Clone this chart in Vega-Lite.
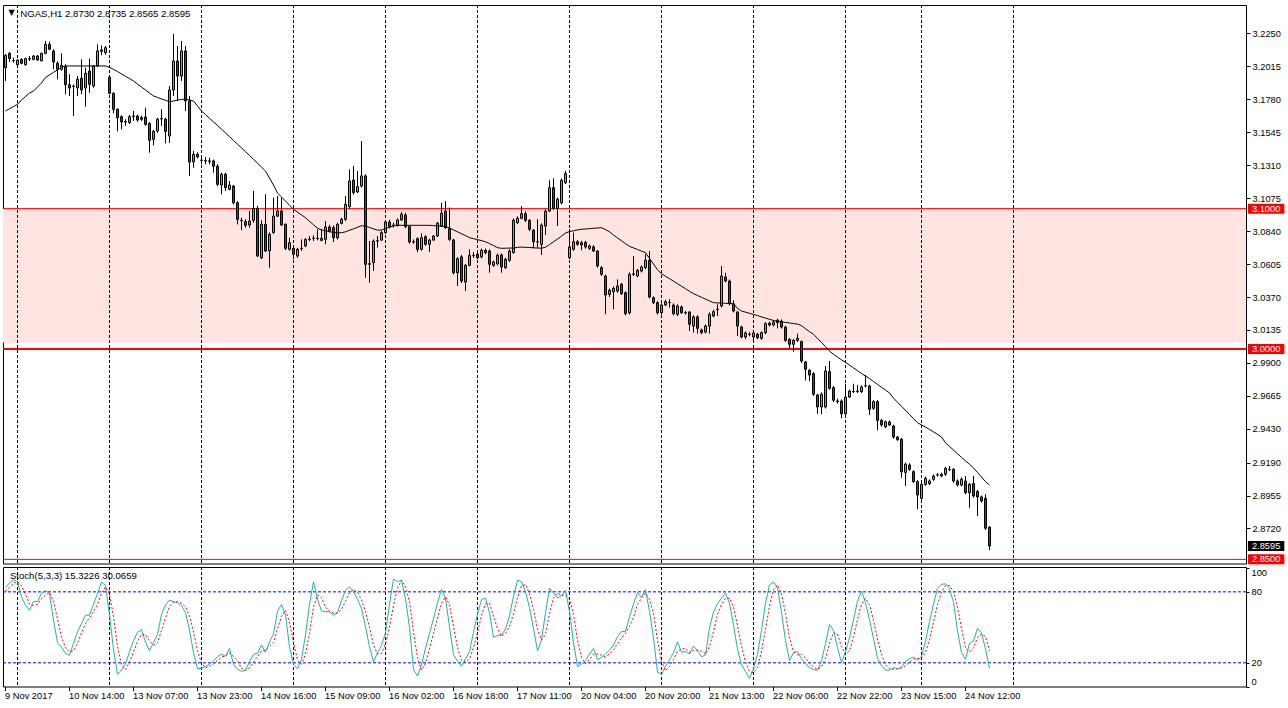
{
"$schema": "https://vega.github.io/schema/vega-lite/v6.json",
"background": "white",
"padding": {"left": 1, "top": 4, "right": 0, "bottom": 0},
"autosize": {"type": "pad"},
"spacing": 3,
"bounds": "flush",
"config": {
  "view": {"stroke": "black", "strokeWidth": 1, "fill": "white"},
  "font": "Liberation Sans",
  "scale": {"continuousPadding": 0},
  "axis": {"labelFont": "Liberation Sans", "labelFontSize": 9.3, "labelColor": "black", "tickColor": "black", "tickWidth": 1, "domain": false, "grid": false, "labelOverlap": false}
},
"datasets": {
  "b": [
{"i":0,"o":3.2005,"h":3.2102,"l":3.1910,"c":3.2093,"ma":3.1696,"k":83.8,"d":80.6},
{"i":1,"o":3.2107,"h":3.2116,"l":3.2045,"c":3.2069,"ma":3.1712,"k":87.5,"d":83.8},
{"i":2,"o":3.2057,"h":3.2076,"l":3.2040,"c":3.2055,"ma":3.1728,"k":90.2,"d":87.2},
{"i":3,"o":3.2026,"h":3.2064,"l":3.2022,"c":3.2059,"ma":3.1744,"k":88.7,"d":88.8},
{"i":4,"o":3.2064,"h":3.2071,"l":3.2029,"c":3.2036,"ma":3.1774,"k":75.8,"d":84.9},
{"i":5,"o":3.2026,"h":3.2076,"l":3.2019,"c":3.2069,"ma":3.1799,"k":68.7,"d":77.7},
{"i":6,"o":3.2069,"h":3.2088,"l":3.2052,"c":3.2066,"ma":3.1824,"k":64.5,"d":69.7},
{"i":7,"o":3.2064,"h":3.2095,"l":3.2057,"c":3.2088,"ma":3.1838,"k":72.0,"d":68.4},
{"i":8,"o":3.2088,"h":3.2095,"l":3.2055,"c":3.2059,"ma":3.1867,"k":71.7,"d":69.4},
{"i":9,"o":3.2054,"h":3.2112,"l":3.2050,"c":3.2107,"ma":3.1896,"k":78.8,"d":74.2},
{"i":10,"o":3.2107,"h":3.2195,"l":3.2100,"c":3.2171,"ma":3.1935,"k":81.1,"d":77.2},
{"i":11,"o":3.2171,"h":3.2190,"l":3.2130,"c":3.2136,"ma":3.1953,"k":78.6,"d":79.5},
{"i":12,"o":3.2124,"h":3.2136,"l":3.1993,"c":3.2045,"ma":3.1972,"k":55.9,"d":71.9},
{"i":13,"o":3.2036,"h":3.2050,"l":3.1922,"c":3.1993,"ma":3.1988,"k":37.0,"d":57.2},
{"i":14,"o":3.1993,"h":3.2107,"l":3.1983,"c":3.2022,"ma":3.2008,"k":33.2,"d":42.0},
{"i":15,"o":3.2012,"h":3.2030,"l":3.1815,"c":3.1883,"ma":3.2017,"k":28.0,"d":32.7},
{"i":16,"o":3.1883,"h":3.1958,"l":3.1803,"c":3.1860,"ma":3.2017,"k":26.3,"d":29.2},
{"i":17,"o":3.1874,"h":3.1886,"l":3.1660,"c":3.1870,"ma":3.2017,"k":36.6,"d":30.3},
{"i":18,"o":3.1860,"h":3.1945,"l":3.1803,"c":3.1922,"ma":3.2017,"k":46.2,"d":36.4},
{"i":19,"o":3.1929,"h":3.2064,"l":3.1815,"c":3.1846,"ma":3.2017,"k":53.3,"d":45.4},
{"i":20,"o":3.1860,"h":3.2005,"l":3.1727,"c":3.1965,"ma":3.2017,"k":60.3,"d":53.3},
{"i":21,"o":3.1981,"h":3.2069,"l":3.1826,"c":3.1886,"ma":3.2017,"k":60.3,"d":58.0},
{"i":22,"o":3.1874,"h":3.2022,"l":3.1862,"c":3.2017,"ma":3.2017,"k":69.4,"d":63.3},
{"i":23,"o":3.2017,"h":3.2171,"l":3.2012,"c":3.2124,"ma":3.2017,"k":78.7,"d":69.5},
{"i":24,"o":3.2121,"h":3.2164,"l":3.2093,"c":3.2131,"ma":3.2017,"k":88.4,"d":78.8},
{"i":25,"o":3.2112,"h":3.2159,"l":3.2097,"c":3.2147,"ma":3.2017,"k":85.4,"d":84.2},
{"i":26,"o":3.1938,"h":3.1945,"l":3.1815,"c":3.1822,"ma":3.2007,"k":60.4,"d":78.1},
{"i":27,"o":3.1822,"h":3.1829,"l":3.1680,"c":3.1708,"ma":3.1993,"k":31.3,"d":59.0},
{"i":28,"o":3.1708,"h":3.1715,"l":3.1551,"c":3.1648,"ma":3.1977,"k":10.3,"d":34.0},
{"i":29,"o":3.1655,"h":3.1665,"l":3.1566,"c":3.1618,"ma":3.1960,"k":13.9,"d":18.5},
{"i":30,"o":3.1620,"h":3.1637,"l":3.1589,"c":3.1617,"ma":3.1943,"k":19.2,"d":14.5},
{"i":31,"o":3.1613,"h":3.1667,"l":3.1603,"c":3.1655,"ma":3.1927,"k":29.4,"d":20.8},
{"i":32,"o":3.1658,"h":3.1696,"l":3.1625,"c":3.1660,"ma":3.1910,"k":38.7,"d":29.1},
{"i":33,"o":3.1660,"h":3.1670,"l":3.1620,"c":3.1632,"ma":3.1888,"k":45.9,"d":38.0},
{"i":34,"o":3.1648,"h":3.1663,"l":3.1625,"c":3.1637,"ma":3.1867,"k":48.0,"d":44.2},
{"i":35,"o":3.1653,"h":3.1720,"l":3.1590,"c":3.1601,"ma":3.1846,"k":37.6,"d":43.8},
{"i":36,"o":3.1608,"h":3.1615,"l":3.1399,"c":3.1487,"ma":3.1824,"k":30.3,"d":38.6},
{"i":37,"o":3.1494,"h":3.1560,"l":3.1451,"c":3.1551,"ma":3.1803,"k":36.9,"d":34.9},
{"i":38,"o":3.1553,"h":3.1648,"l":3.1540,"c":3.1637,"ma":3.1793,"k":44.2,"d":37.1},
{"i":39,"o":3.1641,"h":3.1708,"l":3.1589,"c":3.1639,"ma":3.1782,"k":61.0,"d":47.4},
{"i":40,"o":3.1637,"h":3.1648,"l":3.1466,"c":3.1551,"ma":3.1772,"k":68.9,"d":58.0},
{"i":41,"o":3.1518,"h":3.1874,"l":3.1468,"c":3.1846,"ma":3.1762,"k":73.0,"d":67.6},
{"i":42,"o":3.1846,"h":3.2245,"l":3.1803,"c":3.2052,"ma":3.1767,"k":71.9,"d":71.3},
{"i":43,"o":3.2052,"h":3.2159,"l":3.1767,"c":3.1945,"ma":3.1774,"k":70.7,"d":71.9},
{"i":44,"o":3.1945,"h":3.2195,"l":3.1910,"c":3.2124,"ma":3.1778,"k":68.5,"d":70.4},
{"i":45,"o":3.2124,"h":3.2159,"l":3.1696,"c":3.1767,"ma":3.1781,"k":62.3,"d":67.2},
{"i":46,"o":3.1767,"h":3.1803,"l":3.1233,"c":3.1332,"ma":3.1774,"k":47.6,"d":59.5},
{"i":47,"o":3.1334,"h":3.1411,"l":3.1292,"c":3.1387,"ma":3.1767,"k":28.5,"d":46.1},
{"i":48,"o":3.1387,"h":3.1401,"l":3.1358,"c":3.1368,"ma":3.1732,"k":15.2,"d":30.4},
{"i":49,"o":3.1345,"h":3.1368,"l":3.1316,"c":3.1344,"ma":3.1696,"k":15.2,"d":19.6},
{"i":50,"o":3.1342,"h":3.1368,"l":3.1316,"c":3.1339,"ma":3.1670,"k":16.8,"d":15.7},
{"i":51,"o":3.1340,"h":3.1363,"l":3.1316,"c":3.1337,"ma":3.1644,"k":19.1,"d":17.0},
{"i":52,"o":3.1340,"h":3.1350,"l":3.1256,"c":3.1302,"ma":3.1618,"k":21.6,"d":19.2},
{"i":53,"o":3.1302,"h":3.1316,"l":3.1160,"c":3.1173,"ma":3.1593,"k":25.2,"d":22.0},
{"i":54,"o":3.1168,"h":3.1256,"l":3.1102,"c":3.1245,"ma":3.1566,"k":27.4,"d":24.7},
{"i":55,"o":3.1245,"h":3.1256,"l":3.1126,"c":3.1149,"ma":3.1540,"k":25.4,"d":26.0},
{"i":56,"o":3.1138,"h":3.1197,"l":3.1130,"c":3.1168,"ma":3.1513,"k":32.1,"d":28.3},
{"i":57,"o":3.1161,"h":3.1168,"l":3.1030,"c":3.1042,"ma":3.1486,"k":18.7,"d":25.4},
{"i":58,"o":3.1042,"h":3.1054,"l":3.0888,"c":3.0924,"ma":3.1459,"k":14.5,"d":21.8},
{"i":59,"o":3.0917,"h":3.0935,"l":3.0846,"c":3.0914,"ma":3.1433,"k":12.8,"d":15.3},
{"i":60,"o":3.0907,"h":3.0924,"l":3.0864,"c":3.0881,"ma":3.1406,"k":13.6,"d":13.6},
{"i":61,"o":3.0883,"h":3.0983,"l":3.0864,"c":3.0912,"ma":3.1379,"k":20.9,"d":15.8},
{"i":62,"o":3.0917,"h":3.1126,"l":3.0900,"c":3.1002,"ma":3.1352,"k":27.3,"d":20.6},
{"i":63,"o":3.1002,"h":3.1020,"l":3.0655,"c":3.0662,"ma":3.1324,"k":27.9,"d":25.4},
{"i":64,"o":3.0650,"h":3.0917,"l":3.0640,"c":3.0888,"ma":3.1296,"k":35.2,"d":30.1},
{"i":65,"o":3.0888,"h":3.1102,"l":3.0690,"c":3.0698,"ma":3.1268,"k":28.9,"d":30.7},
{"i":66,"o":3.0698,"h":3.0830,"l":3.0579,"c":3.0817,"ma":3.1218,"k":37.8,"d":34.0},
{"i":67,"o":3.0829,"h":3.1078,"l":3.0820,"c":3.0947,"ma":3.1168,"k":44.5,"d":37.1},
{"i":68,"o":3.0947,"h":3.1090,"l":3.0940,"c":3.0983,"ma":3.1111,"k":63.7,"d":48.7},
{"i":69,"o":3.0983,"h":3.1078,"l":3.0876,"c":3.0883,"ma":3.1083,"k":69.3,"d":59.2},
{"i":70,"o":3.0888,"h":3.0895,"l":3.0705,"c":3.0717,"ma":3.1054,"k":60.3,"d":64.4},
{"i":71,"o":3.0710,"h":3.0793,"l":3.0700,"c":3.0757,"ma":3.1024,"k":33.5,"d":54.4},
{"i":72,"o":3.0717,"h":3.0730,"l":3.0639,"c":3.0675,"ma":3.0995,"k":18.4,"d":37.4},
{"i":73,"o":3.0662,"h":3.0720,"l":3.0650,"c":3.0710,"ma":3.0975,"k":15.1,"d":22.3},
{"i":74,"o":3.0715,"h":3.0781,"l":3.0698,"c":3.0718,"ma":3.0955,"k":23.0,"d":18.8},
{"i":75,"o":3.0734,"h":3.0790,"l":3.0725,"c":3.0781,"ma":3.0935,"k":43.5,"d":27.2},
{"i":76,"o":3.0781,"h":3.0805,"l":3.0767,"c":3.0783,"ma":3.0910,"k":69.5,"d":45.3},
{"i":77,"o":3.0788,"h":3.0810,"l":3.0770,"c":3.0790,"ma":3.0885,"k":88.5,"d":67.2},
{"i":78,"o":3.0790,"h":3.0853,"l":3.0774,"c":3.0788,"ma":3.0861,"k":74.0,"d":77.3},
{"i":79,"o":3.0774,"h":3.0853,"l":3.0767,"c":3.0788,"ma":3.0848,"k":63.8,"d":75.4},
{"i":80,"o":3.0781,"h":3.0912,"l":3.0746,"c":3.0869,"ma":3.0842,"k":63.3,"d":67.0},
{"i":81,"o":3.0869,"h":3.0885,"l":3.0830,"c":3.0841,"ma":3.0836,"k":63.1,"d":63.4},
{"i":82,"o":3.0864,"h":3.0880,"l":3.0762,"c":3.0793,"ma":3.0831,"k":60.3,"d":62.2},
{"i":83,"o":3.0793,"h":3.0900,"l":3.0780,"c":3.0888,"ma":3.0828,"k":62.4,"d":61.9},
{"i":84,"o":3.0895,"h":3.0935,"l":3.0888,"c":3.0924,"ma":3.0828,"k":72.7,"d":65.1},
{"i":85,"o":3.0924,"h":3.1090,"l":3.0912,"c":3.1031,"ma":3.0835,"k":81.1,"d":72.1},
{"i":86,"o":3.1014,"h":3.1280,"l":3.1000,"c":3.1197,"ma":3.0846,"k":84.3,"d":79.4},
{"i":87,"o":3.1204,"h":3.1304,"l":3.1100,"c":3.1114,"ma":3.0856,"k":80.2,"d":81.9},
{"i":88,"o":3.1119,"h":3.1268,"l":3.1110,"c":3.1156,"ma":3.0867,"k":73.9,"d":79.5},
{"i":89,"o":3.1161,"h":3.1482,"l":3.1150,"c":3.1233,"ma":3.0878,"k":65.9,"d":73.3},
{"i":90,"o":3.1233,"h":3.1245,"l":3.0508,"c":3.0603,"ma":3.0875,"k":50.6,"d":63.5},
{"i":91,"o":3.0608,"h":3.0769,"l":3.0472,"c":3.0603,"ma":3.0866,"k":33.5,"d":50.0},
{"i":92,"o":3.0615,"h":3.0781,"l":3.0555,"c":3.0769,"ma":3.0856,"k":20.7,"d":34.9},
{"i":93,"o":3.0769,"h":3.0805,"l":3.0722,"c":3.0772,"ma":3.0846,"k":28.4,"d":27.5},
{"i":94,"o":3.0776,"h":3.0841,"l":3.0769,"c":3.0829,"ma":3.0848,"k":34.7,"d":27.9},
{"i":95,"o":3.0829,"h":3.0917,"l":3.0820,"c":3.0905,"ma":3.0858,"k":45.4,"d":36.2},
{"i":96,"o":3.0905,"h":3.0920,"l":3.0860,"c":3.0871,"ma":3.0867,"k":69.5,"d":49.9},
{"i":97,"o":3.0881,"h":3.0900,"l":3.0865,"c":3.0883,"ma":3.0877,"k":90.9,"d":68.6},
{"i":98,"o":3.0881,"h":3.0930,"l":3.0872,"c":3.0919,"ma":3.0881,"k":88.7,"d":83.0},
{"i":99,"o":3.0919,"h":3.0975,"l":3.0912,"c":3.0960,"ma":3.0881,"k":89.7,"d":89.8},
{"i":100,"o":3.0955,"h":3.0970,"l":3.0860,"c":3.0871,"ma":3.0881,"k":74.0,"d":84.1},
{"i":101,"o":3.0871,"h":3.0880,"l":3.0750,"c":3.0762,"ma":3.0881,"k":50.2,"d":71.3},
{"i":102,"o":3.0762,"h":3.0780,"l":3.0750,"c":3.0764,"ma":3.0881,"k":14.4,"d":46.2},
{"i":103,"o":3.0786,"h":3.0795,"l":3.0690,"c":3.0710,"ma":3.0881,"k":8.8,"d":24.5},
{"i":104,"o":3.0710,"h":3.0824,"l":3.0700,"c":3.0793,"ma":3.0881,"k":18.3,"d":13.8},
{"i":105,"o":3.0800,"h":3.0810,"l":3.0735,"c":3.0746,"ma":3.0881,"k":32.4,"d":19.8},
{"i":106,"o":3.0746,"h":3.0785,"l":3.0691,"c":3.0776,"ma":3.0881,"k":44.8,"d":31.8},
{"i":107,"o":3.0776,"h":3.0812,"l":3.0770,"c":3.0805,"ma":3.0879,"k":57.4,"d":44.9},
{"i":108,"o":3.0805,"h":3.0905,"l":3.0798,"c":3.0896,"ma":3.0877,"k":70.8,"d":57.7},
{"i":109,"o":3.0876,"h":3.1042,"l":3.0870,"c":3.0967,"ma":3.0875,"k":82.1,"d":70.1},
{"i":110,"o":3.0983,"h":3.1054,"l":3.0855,"c":3.0864,"ma":3.0872,"k":74.5,"d":75.8},
{"i":111,"o":3.0857,"h":3.1007,"l":3.0770,"c":3.0781,"ma":3.0862,"k":50.5,"d":69.0},
{"i":112,"o":3.0777,"h":3.0785,"l":3.0530,"c":3.0543,"ma":3.0848,"k":26.8,"d":50.6},
{"i":113,"o":3.0543,"h":3.0655,"l":3.0449,"c":3.0643,"ma":3.0835,"k":21.6,"d":33.0},
{"i":114,"o":3.0657,"h":3.0670,"l":3.0470,"c":3.0484,"ma":3.0821,"k":17.2,"d":21.9},
{"i":115,"o":3.0477,"h":3.0605,"l":3.0413,"c":3.0596,"ma":3.0808,"k":23.3,"d":20.7},
{"i":116,"o":3.0596,"h":3.0710,"l":3.0590,"c":3.0667,"ma":3.0793,"k":29.3,"d":23.3},
{"i":117,"o":3.0667,"h":3.0690,"l":3.0650,"c":3.0665,"ma":3.0786,"k":45.9,"d":32.8},
{"i":118,"o":3.0675,"h":3.0690,"l":3.0640,"c":3.0650,"ma":3.0779,"k":61.2,"d":45.5},
{"i":119,"o":3.0657,"h":3.0715,"l":3.0645,"c":3.0703,"ma":3.0772,"k":73.5,"d":60.2},
{"i":120,"o":3.0703,"h":3.0715,"l":3.0675,"c":3.0686,"ma":3.0764,"k":74.9,"d":69.9},
{"i":121,"o":3.0698,"h":3.0710,"l":3.0543,"c":3.0603,"ma":3.0751,"k":62.2,"d":70.2},
{"i":122,"o":3.0596,"h":3.0630,"l":3.0585,"c":3.0620,"ma":3.0737,"k":41.5,"d":59.5},
{"i":123,"o":3.0607,"h":3.0680,"l":3.0595,"c":3.0667,"ma":3.0722,"k":43.0,"d":48.9},
{"i":124,"o":3.0670,"h":3.0680,"l":3.0543,"c":3.0584,"ma":3.0717,"k":43.4,"d":42.6},
{"i":125,"o":3.0579,"h":3.0650,"l":3.0570,"c":3.0639,"ma":3.0718,"k":48.7,"d":45.0},
{"i":126,"o":3.0632,"h":3.0710,"l":3.0620,"c":3.0698,"ma":3.0719,"k":59.7,"d":50.6},
{"i":127,"o":3.0686,"h":3.0930,"l":3.0680,"c":3.0917,"ma":3.0719,"k":76.4,"d":61.6},
{"i":128,"o":3.0900,"h":3.0945,"l":3.0890,"c":3.0931,"ma":3.0724,"k":89.8,"d":75.3},
{"i":129,"o":3.0931,"h":3.1019,"l":3.0925,"c":3.0964,"ma":3.0726,"k":88.5,"d":84.9},
{"i":130,"o":3.0964,"h":3.0980,"l":3.0905,"c":3.0917,"ma":3.0724,"k":80.2,"d":86.2},
{"i":131,"o":3.0917,"h":3.0925,"l":3.0840,"c":3.0853,"ma":3.0723,"k":66.5,"d":78.4},
{"i":132,"o":3.0846,"h":3.0855,"l":3.0717,"c":3.0764,"ma":3.0721,"k":48.8,"d":65.2},
{"i":133,"o":3.0764,"h":3.0924,"l":3.0722,"c":3.0762,"ma":3.0719,"k":30.2,"d":48.5},
{"i":134,"o":3.0746,"h":3.0895,"l":3.0670,"c":3.0883,"ma":3.0718,"k":39.3,"d":39.4},
{"i":135,"o":3.0876,"h":3.0995,"l":3.0812,"c":3.0983,"ma":3.0725,"k":62.4,"d":44.0},
{"i":136,"o":3.0983,"h":3.1202,"l":3.0975,"c":3.1149,"ma":3.0744,"k":83.2,"d":61.6},
{"i":137,"o":3.1149,"h":3.1216,"l":3.0990,"c":3.1002,"ma":3.0764,"k":79.0,"d":74.9},
{"i":138,"o":3.1002,"h":3.1080,"l":3.0876,"c":3.1067,"ma":3.0783,"k":74.8,"d":79.0},
{"i":139,"o":3.1042,"h":3.1215,"l":3.1030,"c":3.1202,"ma":3.0804,"k":76.9,"d":76.9},
{"i":140,"o":3.1185,"h":3.1268,"l":3.1175,"c":3.1249,"ma":3.0826,"k":81.2,"d":77.6},
{"i":141,"o":3.0650,"h":3.0853,"l":3.0640,"c":3.0727,"ma":3.0837,"k":63.5,"d":73.9},
{"i":142,"o":3.0710,"h":3.0829,"l":3.0700,"c":3.0764,"ma":3.0842,"k":37.4,"d":60.7},
{"i":143,"o":3.0764,"h":3.0775,"l":3.0735,"c":3.0746,"ma":3.0848,"k":16.8,"d":39.2},
{"i":144,"o":3.0757,"h":3.0770,"l":3.0703,"c":3.0741,"ma":3.0853,"k":19.0,"d":24.4},
{"i":145,"o":3.0760,"h":3.0770,"l":3.0715,"c":3.0727,"ma":3.0855,"k":21.8,"d":19.2},
{"i":146,"o":3.0717,"h":3.0745,"l":3.0705,"c":3.0734,"ma":3.0857,"k":27.5,"d":22.8},
{"i":147,"o":3.0727,"h":3.0740,"l":3.0690,"c":3.0698,"ma":3.0860,"k":32.2,"d":27.2},
{"i":148,"o":3.0698,"h":3.0705,"l":3.0580,"c":3.0591,"ma":3.0862,"k":22.8,"d":27.5},
{"i":149,"o":3.0579,"h":3.0590,"l":3.0520,"c":3.0532,"ma":3.0864,"k":24.6,"d":26.5},
{"i":150,"o":3.0520,"h":3.0530,"l":3.0247,"c":3.0384,"ma":3.0851,"k":27.5,"d":25.0},
{"i":151,"o":3.0389,"h":3.0430,"l":3.0370,"c":3.0418,"ma":3.0835,"k":30.8,"d":27.6},
{"i":152,"o":3.0408,"h":3.0445,"l":3.0283,"c":3.0432,"ma":3.0812,"k":35.0,"d":31.1},
{"i":153,"o":3.0413,"h":3.0496,"l":3.0400,"c":3.0449,"ma":3.0791,"k":42.2,"d":36.0},
{"i":154,"o":3.0461,"h":3.0470,"l":3.0385,"c":3.0394,"ma":3.0771,"k":46.6,"d":41.3},
{"i":155,"o":3.0401,"h":3.0410,"l":3.0240,"c":3.0251,"ma":3.0750,"k":46.5,"d":45.1},
{"i":156,"o":3.0258,"h":3.0545,"l":3.0245,"c":3.0532,"ma":3.0731,"k":58.9,"d":50.7},
{"i":157,"o":3.0532,"h":3.0662,"l":3.0520,"c":3.0535,"ma":3.0720,"k":69.7,"d":58.4},
{"i":158,"o":3.0520,"h":3.0570,"l":3.0510,"c":3.0560,"ma":3.0709,"k":79.4,"d":69.3},
{"i":159,"o":3.0555,"h":3.0595,"l":3.0545,"c":3.0584,"ma":3.0697,"k":75.3,"d":74.8},
{"i":160,"o":3.0579,"h":3.0675,"l":3.0570,"c":3.0632,"ma":3.0686,"k":81.9,"d":78.9},
{"i":161,"o":3.0632,"h":3.0698,"l":3.0360,"c":3.0370,"ma":3.0645,"k":63.5,"d":73.6},
{"i":162,"o":3.0365,"h":3.0375,"l":3.0320,"c":3.0330,"ma":3.0605,"k":41.1,"d":62.2},
{"i":163,"o":3.0330,"h":3.0340,"l":3.0245,"c":3.0258,"ma":3.0564,"k":12.1,"d":38.9},
{"i":164,"o":3.0258,"h":3.0325,"l":3.0245,"c":3.0313,"ma":3.0536,"k":10.3,"d":21.2},
{"i":165,"o":3.0313,"h":3.0350,"l":3.0305,"c":3.0337,"ma":3.0518,"k":17.1,"d":13.2},
{"i":166,"o":3.0330,"h":3.0354,"l":3.0294,"c":3.0332,"ma":3.0501,"k":22.9,"d":16.8},
{"i":167,"o":3.0313,"h":3.0325,"l":3.0240,"c":3.0251,"ma":3.0483,"k":28.5,"d":22.8},
{"i":168,"o":3.0247,"h":3.0318,"l":3.0235,"c":3.0306,"ma":3.0465,"k":37.9,"d":29.8},
{"i":169,"o":3.0299,"h":3.0310,"l":3.0250,"c":3.0258,"ma":3.0447,"k":29.0,"d":31.8},
{"i":170,"o":3.0258,"h":3.0270,"l":3.0245,"c":3.0256,"ma":3.0429,"k":29.6,"d":32.2},
{"i":171,"o":3.0263,"h":3.0270,"l":3.0128,"c":3.0176,"ma":3.0411,"k":27.5,"d":28.7},
{"i":172,"o":3.0163,"h":3.0240,"l":3.0116,"c":3.0228,"ma":3.0394,"k":34.2,"d":30.4},
{"i":173,"o":3.0228,"h":3.0240,"l":3.0109,"c":3.0147,"ma":3.0381,"k":30.3,"d":30.7},
{"i":174,"o":3.0135,"h":3.0145,"l":3.0105,"c":3.0116,"ma":3.0368,"k":25.1,"d":29.9},
{"i":175,"o":3.0121,"h":3.0175,"l":3.0110,"c":3.0163,"ma":3.0355,"k":26.7,"d":27.4},
{"i":176,"o":3.0163,"h":3.0260,"l":3.0109,"c":3.0247,"ma":3.0342,"k":49.7,"d":33.8},
{"i":177,"o":3.0235,"h":3.0280,"l":3.0225,"c":3.0265,"ma":3.0330,"k":62.9,"d":46.4},
{"i":178,"o":3.0280,"h":3.0318,"l":3.0235,"c":3.0282,"ma":3.0328,"k":70.0,"d":60.9},
{"i":179,"o":3.0306,"h":3.0591,"l":3.0295,"c":3.0520,"ma":3.0327,"k":74.5,"d":69.1},
{"i":180,"o":3.0513,"h":3.0543,"l":3.0475,"c":3.0484,"ma":3.0325,"k":79.2,"d":74.6},
{"i":181,"o":3.0484,"h":3.0495,"l":3.0310,"c":3.0322,"ma":3.0324,"k":70.2,"d":74.6},
{"i":182,"o":3.0322,"h":3.0347,"l":3.0260,"c":3.0270,"ma":3.0322,"k":52.1,"d":67.2},
{"i":183,"o":3.0263,"h":3.0270,"l":3.0092,"c":3.0163,"ma":3.0290,"k":31.6,"d":51.3},
{"i":184,"o":3.0156,"h":3.0165,"l":3.0075,"c":3.0085,"ma":3.0270,"k":18.2,"d":34.0},
{"i":185,"o":3.0085,"h":3.0125,"l":3.0070,"c":3.0114,"ma":3.0262,"k":12.9,"d":20.9},
{"i":186,"o":3.0104,"h":3.0120,"l":3.0090,"c":3.0103,"ma":3.0254,"k":6.8,"d":12.6},
{"i":187,"o":3.0085,"h":3.0130,"l":3.0060,"c":3.0114,"ma":3.0246,"k":15.1,"d":11.6},
{"i":188,"o":3.0104,"h":3.0115,"l":3.0070,"c":3.0080,"ma":3.0238,"k":27.1,"d":16.3},
{"i":189,"o":3.0076,"h":3.0125,"l":3.0065,"c":3.0116,"ma":3.0228,"k":47.6,"d":29.9},
{"i":190,"o":3.0116,"h":3.0190,"l":3.0105,"c":3.0180,"ma":3.0220,"k":70.5,"d":48.4},
{"i":191,"o":3.0183,"h":3.0195,"l":3.0160,"c":3.0171,"ma":3.0211,"k":86.0,"d":68.0},
{"i":192,"o":3.0171,"h":3.0205,"l":3.0160,"c":3.0192,"ma":3.0203,"k":88.3,"d":81.6},
{"i":193,"o":3.0204,"h":3.0215,"l":3.0147,"c":3.0187,"ma":3.0197,"k":83.4,"d":85.9},
{"i":194,"o":3.0199,"h":3.0210,"l":3.0145,"c":3.0156,"ma":3.0193,"k":62.8,"d":78.2},
{"i":195,"o":3.0156,"h":3.0165,"l":3.0050,"c":3.0061,"ma":3.0189,"k":38.8,"d":61.7},
{"i":196,"o":3.0069,"h":3.0075,"l":3.0004,"c":3.0033,"ma":3.0185,"k":21.7,"d":41.1},
{"i":197,"o":3.0033,"h":3.0070,"l":2.9980,"c":3.0061,"ma":3.0181,"k":28.9,"d":29.8},
{"i":198,"o":3.0061,"h":3.0109,"l":3.0050,"c":3.0076,"ma":3.0177,"k":29.4,"d":26.7},
{"i":199,"o":3.0052,"h":3.0060,"l":2.9900,"c":2.9914,"ma":3.0166,"k":23.4,"d":27.2},
{"i":200,"o":2.9907,"h":2.9915,"l":2.9776,"c":2.9855,"ma":3.0144,"k":19.6,"d":24.1},
{"i":201,"o":2.9848,"h":2.9855,"l":2.9771,"c":2.9814,"ma":3.0123,"k":15.8,"d":19.6},
{"i":202,"o":2.9824,"h":2.9835,"l":2.9665,"c":2.9677,"ma":3.0104,"k":14.5,"d":16.6},
{"i":203,"o":2.9672,"h":2.9680,"l":2.9538,"c":2.9586,"ma":3.0075,"k":13.6,"d":14.6},
{"i":204,"o":2.9586,"h":2.9690,"l":2.9534,"c":2.9677,"ma":3.0046,"k":21.5,"d":16.5},
{"i":205,"o":2.9586,"h":2.9878,"l":2.9575,"c":2.9843,"ma":3.0017,"k":36.3,"d":23.8},
{"i":206,"o":2.9838,"h":2.9914,"l":2.9710,"c":2.9719,"ma":2.9984,"k":52.4,"d":36.7},
{"i":207,"o":2.9724,"h":2.9735,"l":2.9620,"c":2.9634,"ma":2.9962,"k":47.5,"d":45.4},
{"i":208,"o":2.9629,"h":2.9645,"l":2.9610,"c":2.9624,"ma":2.9942,"k":32.8,"d":44.2},
{"i":209,"o":2.9629,"h":2.9640,"l":2.9505,"c":2.9538,"ma":2.9922,"k":20.3,"d":33.5},
{"i":210,"o":2.9538,"h":2.9752,"l":2.9530,"c":2.9657,"ma":2.9905,"k":29.1,"d":27.4},
{"i":211,"o":2.9657,"h":2.9710,"l":2.9650,"c":2.9700,"ma":2.9885,"k":41.3,"d":30.2},
{"i":212,"o":2.9697,"h":2.9752,"l":2.9685,"c":2.9695,"ma":2.9865,"k":56.4,"d":42.3},
{"i":213,"o":2.9697,"h":2.9743,"l":2.9685,"c":2.9700,"ma":2.9845,"k":72.1,"d":56.6},
{"i":214,"o":2.9695,"h":2.9740,"l":2.9685,"c":2.9729,"ma":2.9825,"k":80.6,"d":69.7},
{"i":215,"o":2.9737,"h":2.9814,"l":2.9725,"c":2.9738,"ma":2.9807,"k":70.8,"d":74.5},
{"i":216,"o":2.9736,"h":2.9745,"l":2.9529,"c":2.9570,"ma":2.9789,"k":56.3,"d":69.2},
{"i":217,"o":2.9577,"h":2.9635,"l":2.9565,"c":2.9624,"ma":2.9768,"k":40.5,"d":55.9},
{"i":218,"o":2.9624,"h":2.9635,"l":2.9420,"c":2.9491,"ma":2.9747,"k":23.9,"d":40.2},
{"i":219,"o":2.9491,"h":2.9500,"l":2.9445,"c":2.9458,"ma":2.9727,"k":17.7,"d":27.4},
{"i":220,"o":2.9444,"h":2.9490,"l":2.9435,"c":2.9481,"ma":2.9707,"k":13.8,"d":18.5},
{"i":221,"o":2.9479,"h":2.9490,"l":2.9450,"c":2.9458,"ma":2.9686,"k":13.8,"d":15.1},
{"i":222,"o":2.9451,"h":2.9460,"l":2.9360,"c":2.9372,"ma":2.9649,"k":16.0,"d":14.5},
{"i":223,"o":2.9372,"h":2.9380,"l":2.9345,"c":2.9353,"ma":2.9620,"k":14.9,"d":14.9},
{"i":224,"o":2.9356,"h":2.9365,"l":2.9082,"c":2.9125,"ma":2.9591,"k":16.3,"d":15.7},
{"i":225,"o":2.9119,"h":2.9190,"l":2.9023,"c":2.9178,"ma":2.9562,"k":21.3,"d":17.5},
{"i":226,"o":2.9173,"h":2.9185,"l":2.9130,"c":2.9142,"ma":2.9533,"k":23.7,"d":20.4},
{"i":227,"o":2.9125,"h":2.9135,"l":2.9045,"c":2.9054,"ma":2.9503,"k":24.7,"d":23.2},
{"i":228,"o":2.9054,"h":2.9065,"l":2.8857,"c":2.8959,"ma":2.9474,"k":22.5,"d":23.6},
{"i":229,"o":2.8935,"h":2.9045,"l":2.8925,"c":2.9035,"ma":2.9458,"k":25.5,"d":24.2},
{"i":230,"o":2.9035,"h":2.9090,"l":2.9025,"c":2.9078,"ma":2.9443,"k":38.2,"d":28.7},
{"i":231,"o":2.9040,"h":2.9070,"l":2.9030,"c":2.9059,"ma":2.9426,"k":55.0,"d":39.6},
{"i":232,"o":2.9071,"h":2.9105,"l":2.9060,"c":2.9094,"ma":2.9409,"k":69.7,"d":54.3},
{"i":233,"o":2.9102,"h":2.9115,"l":2.9090,"c":2.9101,"ma":2.9391,"k":82.9,"d":69.2},
{"i":234,"o":2.9094,"h":2.9118,"l":2.9085,"c":2.9106,"ma":2.9372,"k":86.4,"d":79.7},
{"i":235,"o":2.9107,"h":2.9160,"l":2.9095,"c":2.9149,"ma":2.9331,"k":86.8,"d":85.4},
{"i":236,"o":2.9142,"h":2.9165,"l":2.9130,"c":2.9140,"ma":2.9305,"k":82.9,"d":85.4},
{"i":237,"o":2.9142,"h":2.9150,"l":2.9045,"c":2.9059,"ma":2.9279,"k":71.0,"d":80.2},
{"i":238,"o":2.9059,"h":2.9070,"l":2.9020,"c":2.9030,"ma":2.9253,"k":47.0,"d":67.0},
{"i":239,"o":2.9030,"h":2.9085,"l":2.9020,"c":2.9071,"ma":2.9227,"k":28.8,"d":48.9},
{"i":240,"o":2.9059,"h":2.9094,"l":2.8965,"c":2.8975,"ma":2.9202,"k":22.9,"d":32.9},
{"i":241,"o":2.8975,"h":2.9045,"l":2.8868,"c":2.9035,"ma":2.9178,"k":36.4,"d":29.4},
{"i":242,"o":2.9040,"h":2.9094,"l":2.8940,"c":2.8952,"ma":2.9152,"k":38.6,"d":32.6},
{"i":243,"o":2.8983,"h":2.8995,"l":2.8809,"c":2.8945,"ma":2.9119,"k":49.2,"d":41.4},
{"i":244,"o":2.8945,"h":2.8955,"l":2.8905,"c":2.8916,"ma":2.9087,"k":45.2,"d":44.3},
{"i":245,"o":2.8935,"h":2.8964,"l":2.8710,"c":2.8722,"ma":2.9054,"k":31.8,"d":42.1},
{"i":246,"o":2.8730,"h":2.8735,"l":2.8565,"c":2.8595,"ma":2.9030,"k":15.3226,"d":30.0659}
  ],
  "seps": [{"s":3},{"s":26},{"s":49},{"s":72},{"s":95},{"s":118},{"s":141},{"s":164},{"s":187},{"s":210},{"s":229},{"s":252}],
  "lv": [{"p":3.1},{"p":3.0},{"p":2.85}],
  "tags": [{"p":3.1,"t":"3.1000","kind":"level"},{"p":3.0,"t":"3.0000","kind":"level"},{"p":2.8595,"t":"2.8595","kind":"bid"},{"p":2.85,"t":"2.8500","kind":"level"}]
},
"vconcat": [
{
  "width": 1243,
  "height": 558.5,
  "layer": [
    {
      "data": {"values": [{"lo": 3.0045, "hi": 3.1}]},
      "mark": {"type": "rect", "color": "#ffe4e1"},
      "encoding": {
        "y": {"field": "lo", "type": "quantitative", "title": null, "scale": {"domain": [2.84705, 3.24515], "nice": false, "zero": false, "padding": 0},
              "axis": {"orient": "right", "title": null, "values": [3.225, 3.2015, 3.178, 3.1545, 3.131, 3.1075, 3.084, 3.0605, 3.037, 3.0135, 2.99, 2.9665, 2.943, 2.919, 2.8955, 2.872],
                       "tickCount": 100, "format": ".4f", "tickSize": 4, "labelPadding": 2, "labelAlign": "left", "labelBaseline": "middle", "labelOverlap": false, "labelFlush": false, "labelBound": false}},
        "y2": {"field": "hi"}
      }
    },
    {
      "data": {"name": "seps"},
      "mark": {"type": "rule", "color": "black", "strokeWidth": 1, "strokeDash": [3, 2]},
      "encoding": {"x": {"field": "s", "type": "quantitative", "title": null, "scale": {"domain": [-0.625, 310.125], "nice": false, "zero": false, "padding": 0}, "axis": null}}
    },
    {
      "data": {"name": "lv"},
      "mark": {"type": "rule", "color": "#ff0000"},
      "encoding": {
        "y": {"field": "p", "type": "quantitative", "title": null, "scale": {"domain": [2.84705, 3.24515], "nice": false, "zero": false, "padding": 0}},
        "strokeWidth": {"condition": {"test": "datum.p == 3", "value": 2}, "value": 1}
      }
    },
    {
      "data": {"name": "b"},
      "mark": {"type": "rule", "color": "black", "strokeWidth": 1},
      "encoding": {
        "x": {"field": "i", "type": "quantitative", "title": null, "scale": {"domain": [-0.625, 310.125], "nice": false, "zero": false, "padding": 0}, "axis": null},
        "y": {"field": "l", "type": "quantitative", "title": null, "scale": {"domain": [2.84705, 3.24515], "nice": false, "zero": false, "padding": 0}},
        "y2": {"field": "h"}
      }
    },
    {
      "data": {"name": "b"},
      "mark": {"type": "bar", "size": 2, "stroke": "black", "strokeWidth": 1, "orient": "vertical"},
      "encoding": {
        "x": {"field": "i", "type": "quantitative", "title": null, "scale": {"domain": [-0.625, 310.125], "nice": false, "zero": false, "padding": 0}, "axis": null},
        "y": {"field": "o", "type": "quantitative", "title": null, "scale": {"domain": [2.84705, 3.24515], "nice": false, "zero": false, "padding": 0}},
        "y2": {"field": "c"},
        "fill": {"condition": {"test": "datum.c >= datum.o", "value": "#00ff00"}, "value": "#ff0000"}
      }
    },
    {
      "data": {"name": "b"},
      "mark": {"type": "line", "color": "black", "strokeWidth": 1},
      "encoding": {
        "x": {"field": "i", "type": "quantitative", "title": null, "scale": {"domain": [-0.625, 310.125], "nice": false, "zero": false, "padding": 0}, "axis": null},
        "y": {"field": "ma", "type": "quantitative", "title": null, "scale": {"domain": [2.84705, 3.24515], "nice": false, "zero": false, "padding": 0}}
      }
    },
    {
      "data": {"name": "tags"},
      "mark": {"type": "bar", "size": 10, "orient": "horizontal"},
      "encoding": {
        "x": {"datum": 310.6, "type": "quantitative", "title": null, "scale": {"domain": [-0.625, 310.125], "nice": false, "zero": false, "padding": 0}, "axis": null},
        "x2": {"datum": 319.7},
        "y": {"field": "p", "type": "quantitative", "title": null, "scale": {"domain": [2.84705, 3.24515], "nice": false, "zero": false, "padding": 0}},
        "color": {"field": "kind", "type": "nominal", "scale": {"domain": ["level", "bid"], "range": ["#ff0000", "#000000"]}, "legend": null}
      }
    },
    {
      "data": {"name": "tags"},
      "mark": {"type": "text", "align": "left", "baseline": "middle", "color": "white", "fontSize": 9.3, "font": "Liberation Sans"},
      "encoding": {
        "x": {"datum": 311.6, "type": "quantitative", "title": null, "scale": {"domain": [-0.625, 310.125], "nice": false, "zero": false, "padding": 0}, "axis": null},
        "y": {"field": "p", "type": "quantitative", "title": null, "scale": {"domain": [2.84705, 3.24515], "nice": false, "zero": false, "padding": 0}},
        "text": {"field": "t"}
      }
    },
    {
      "data": {"values": [{}]},
      "mark": {"type": "text", "align": "center", "baseline": "middle", "color": "black", "fontSize": 8, "font": "DejaVu Sans"},
      "encoding": {
        "x": {"datum": 1.5, "type": "quantitative", "title": null, "scale": {"domain": [-0.625, 310.125], "nice": false, "zero": false, "padding": 0}, "axis": null},
        "y": {"datum": 3.2391, "type": "quantitative", "title": null, "scale": {"domain": [2.84705, 3.24515], "nice": false, "zero": false, "padding": 0}},
        "text": {"value": "▼"}
      }
    },
    {
      "data": {"values": [{}]},
      "mark": {"type": "text", "align": "left", "baseline": "middle", "color": "black", "fontSize": 9.6, "font": "Liberation Sans"},
      "encoding": {
        "x": {"datum": 3.7, "type": "quantitative", "title": null, "scale": {"domain": [-0.625, 310.125], "nice": false, "zero": false, "padding": 0}, "axis": null},
        "y": {"datum": 3.2389, "type": "quantitative", "title": null, "scale": {"domain": [2.84705, 3.24515], "nice": false, "zero": false, "padding": 0}},
        "text": {"value": "NGAS,H1  2.8730 2.8735 2.8565 2.8595"}
      }
    }
  ]
},
{
  "width": 1243,
  "height": 119.5,
  "layer": [
    {
      "data": {"name": "seps"},
      "mark": {"type": "rule", "color": "black", "strokeWidth": 1, "strokeDash": [3, 2]},
      "encoding": {
        "x": {"field": "s", "type": "quantitative", "title": null, "scale": {"domain": [-0.625, 310.125], "nice": false, "zero": false, "padding": 0},
              "axis": {"orient": "bottom", "title": null, "tickCount": 100, "values": [-0.25, 15.75, 31.75, 47.75, 63.75, 79.75, 95.75, 111.75, 127.75, 143.75, 159.75, 175.75, 191.75, 207.75, 223.75, 239.75],
                       "labelExpr": "['9 Nov 2017','10 Nov 14:00','13 Nov 07:00','13 Nov 23:00','14 Nov 16:00','15 Nov 09:00','16 Nov 02:00','16 Nov 18:00','17 Nov 11:00','20 Nov 04:00','20 Nov 20:00','21 Nov 13:00','22 Nov 06:00','22 Nov 22:00','23 Nov 15:00','24 Nov 12:00'][round((datum.value + 0.25) / 16)]",
                       "tickSize": 4, "labelPadding": 1, "labelAlign": "left", "labelBaseline": "top", "labelOverlap": false, "labelFlush": false, "labelBound": false}}
      }
    },
    {
      "data": {"values": [{"v": 80}, {"v": 20}]},
      "mark": {"type": "rule", "color": "#0000ff", "strokeWidth": 1, "strokeDash": [3, 2]},
      "encoding": {
        "y": {"field": "v", "type": "quantitative", "title": null, "scale": {"domain": [0, 101], "nice": false, "zero": false, "padding": 0},
              "axis": {"orient": "right", "title": null, "tickCount": 100, "values": [100, 80, 20, 0], "format": "d", "tickSize": 3, "labelPadding": 2, "labelAlign": "left",
                       "labelBaseline": {"condition": [{"test": "datum.value >= 100", "value": "top"}, {"test": "datum.value <= 0", "value": "bottom"}], "value": "middle"},
                       "labelOverlap": false, "labelFlush": false, "labelBound": false}}
      }
    },
    {
      "data": {"name": "b"},
      "mark": {"type": "line", "color": "#20b2aa", "strokeWidth": 1},
      "encoding": {
        "x": {"field": "i", "type": "quantitative", "title": null, "scale": {"domain": [-0.625, 310.125], "nice": false, "zero": false, "padding": 0}},
        "y": {"field": "k", "type": "quantitative", "title": null, "scale": {"domain": [0, 101], "nice": false, "zero": false, "padding": 0}}
      }
    },
    {
      "data": {"name": "b"},
      "mark": {"type": "line", "color": "#ff0000", "strokeWidth": 1, "strokeDash": [2, 2]},
      "encoding": {
        "x": {"field": "i", "type": "quantitative", "title": null, "scale": {"domain": [-0.625, 310.125], "nice": false, "zero": false, "padding": 0}},
        "y": {"field": "d", "type": "quantitative", "title": null, "scale": {"domain": [0, 101], "nice": false, "zero": false, "padding": 0}}
      }
    },
    {
      "data": {"values": [{}]},
      "mark": {"type": "text", "align": "left", "baseline": "middle", "color": "black", "fontSize": 9.6, "font": "Liberation Sans"},
      "encoding": {
        "x": {"datum": 1.1, "type": "quantitative", "title": null, "scale": {"domain": [-0.625, 310.125], "nice": false, "zero": false, "padding": 0}},
        "y": {"datum": 93.2, "type": "quantitative", "title": null, "scale": {"domain": [0, 101], "nice": false, "zero": false, "padding": 0}},
        "text": {"value": "Stoch(5,3,3) 15.3226 30.0659"}
      }
    }
  ]
}
]
}
